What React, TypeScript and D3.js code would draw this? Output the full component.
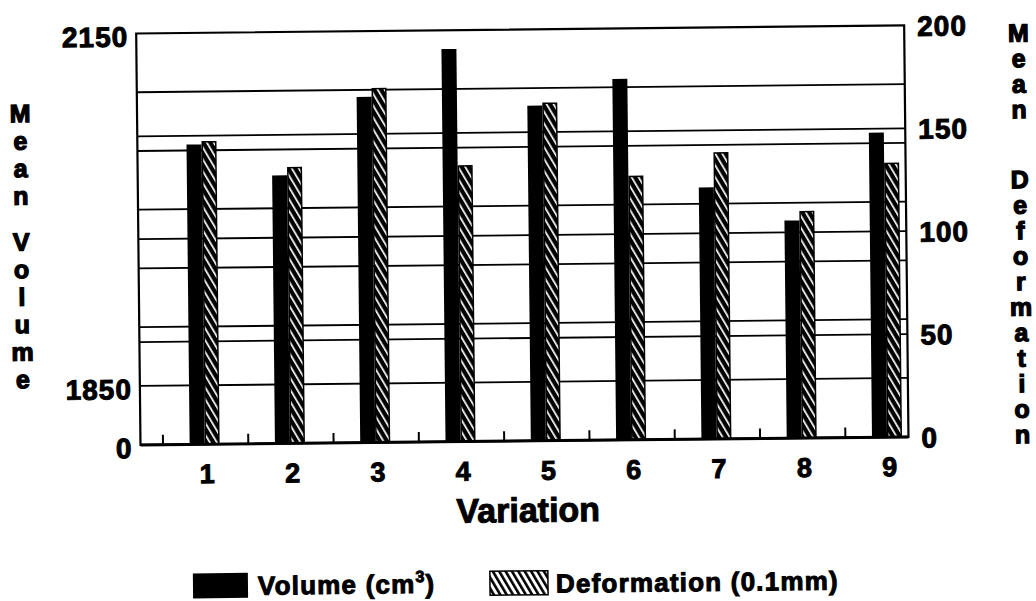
import React, { useEffect, useRef } from 'react';
import * as d3 from 'd3';

// values
const variations = ['1', '2', '3', '4', '5', '6', '7', '8', '9'];
const volume = [2055, 2028, 2094, 2134, 2085, 2107, 2014, 1985, 2059];
const deformation = [147, 134, 172, 134, 164, 128, 139, 110, 133];

const volumeTicks = [0, 1850, 2150];
const volumeGrid = [1850, 1900, 1950, 2000, 2050, 2100];
const deformationTicks = [0, 50, 100, 150, 200];
const deformationGrid = [50, 100, 150];

const FONT = '"Liberation Sans", Arial, Helvetica, sans-serif';

const App = () => {
  const ref = useRef<SVGSVGElement>(null);

  useEffect(() => {
    drawChart();
  }, []);

  const drawChart = () => {
    const svg = d3.select(ref.current);
    svg.selectAll('*').remove();

    const left = 139, right = 907, top = 29.5, bottom = 441;

    const x = d3.scaleBand().domain(variations).range([161.5, 161.5 + 9 * 85.3]);
    const yVol = d3.scaleLinear().domain([0, 1850, 2150]).range([bottom, 382, top]);
    const yDef = d3.scaleLinear().domain([0, 200]).range([bottom, top]);

    const defs = svg.append('defs');
    const barHatch = defs.append('pattern')
      .attr('id', 'barHatch')
      .attr('patternUnits', 'userSpaceOnUse')
      .attr('width', 6).attr('height', 6)
      .attr('patternTransform', 'rotate(-30)');
    barHatch.append('rect').attr('width', 6).attr('height', 6).attr('fill', '#000');
    barHatch.append('rect').attr('x', 2).attr('width', 1.7).attr('height', 6).attr('fill', '#fff');

    const legendHatch = defs.append('pattern')
      .attr('id', 'legendHatch')
      .attr('patternUnits', 'userSpaceOnUse')
      .attr('width', 5.5).attr('height', 5.5)
      .attr('patternTransform', 'rotate(-30)');
    legendHatch.append('rect').attr('width', 5.5).attr('height', 5.5).attr('fill', '#fff');
    legendHatch.append('rect').attr('width', 2.6).attr('height', 5.5).attr('fill', '#000');

    // the scan is tilted a little
    const g = svg.append('g').attr('transform', 'rotate(-0.6 518 300)');

    g.append('g').selectAll('line').data(volumeGrid).join('line')
      .attr('x1', left).attr('x2', right)
      .attr('y1', d => yVol(d)).attr('y2', d => yVol(d))
      .attr('stroke', '#000').attr('stroke-width', 1.8);

    g.append('g').selectAll('line').data(deformationGrid).join('line')
      .attr('x1', left).attr('x2', right)
      .attr('y1', d => yDef(d)).attr('y2', d => yDef(d))
      .attr('stroke', '#000').attr('stroke-width', 1.8);

    const bw = 15;
    const center = (i: number) => (x(variations[i]) as number) + x.bandwidth() / 2 - 1;

    g.append('g').selectAll('rect').data(volume).join('rect')
      .attr('x', (d, i) => center(i) - bw)
      .attr('y', d => yVol(d))
      .attr('width', bw)
      .attr('height', d => bottom - yVol(d))
      .attr('fill', '#000');

    g.append('g').selectAll('rect').data(deformation).join('rect')
      .attr('x', (d, i) => center(i) + 0.75)
      .attr('y', d => yDef(d))
      .attr('width', bw - 1.5)
      .attr('height', d => bottom - yDef(d))
      .attr('fill', 'url(#barHatch)')
      .attr('stroke', '#000').attr('stroke-width', 1.5);

    // frame
    g.append('rect')
      .attr('x', left).attr('y', top)
      .attr('width', right - left).attr('height', bottom - top)
      .attr('fill', 'none').attr('stroke', '#000').attr('stroke-width', 2.2);
    g.append('line')
      .attr('x1', left).attr('x2', right).attr('y1', bottom).attr('y2', bottom)
      .attr('stroke', '#000').attr('stroke-width', 3);

    // small ticks between the groups
    g.append('g').selectAll('line').data(variations).join('line')
      .attr('x1', d => x(d) as number).attr('x2', d => x(d) as number)
      .attr('y1', bottom).attr('y2', bottom - 10)
      .attr('stroke', '#000').attr('stroke-width', 2);

    const styleText = (sel: any, size: number) => sel
      .attr('font-family', FONT).attr('font-weight', 'bold')
      .attr('font-size', size).attr('fill', '#000')
      .attr('stroke', '#000').attr('stroke-width', 1);

    const axL = g.append('g')
      .attr('transform', `translate(131,0)`)
      .call(d3.axisLeft(yVol).tickValues(volumeTicks).tickSize(0).tickPadding(0).tickFormat(d3.format('d')));
    axL.select('.domain').remove();
    styleText(axL.selectAll('text'), 28).attr('dy', '0.45em').attr('letter-spacing', 1);

    const axR = g.append('g')
      .attr('transform', `translate(920,0)`)
      .call(d3.axisRight(yDef).tickValues(deformationTicks).tickSize(0).tickPadding(0).tickFormat(d3.format('d')));
    axR.select('.domain').remove();
    styleText(axR.selectAll('text'), 28).attr('dy', '0.36em').attr('letter-spacing', 1);

    const axB = g.append('g')
      .attr('transform', `translate(1.3,480)`)
      .call(d3.axisBottom(x).tickSize(0).tickPadding(0));
    axB.select('.domain').remove();
    styleText(axB.selectAll('text'), 27).attr('y', 0).attr('dy', 0);

    styleText(g.append('text'), 34)
      .attr('x', 526).attr('y', 522)
      .attr('text-anchor', 'middle')
      .text('Variation');

    // vertical stacked axis titles
    const stacked = (label: string, cx: number, y0: number, pitch: number, gap: number) => {
      const pos: { ch: string; y: number }[] = [];
      let y = y0;
      for (const ch of label) {
        if (ch === ' ') { y += gap - pitch; continue; }
        pos.push({ ch, y });
        y += pitch;
      }
      styleText(g.append('g').selectAll('text').data(pos).join('text'), 25)
        .attr('x', cx).attr('y', d => d.y)
        .attr('dy', '0.36em')
        .attr('text-anchor', 'middle')
        .attr('stroke-width', 1.3)
        .text(d => d.ch);
    };
    stacked('Mean Volume', 22, 108, 27.5, 46);
    stacked('Mean Deformation', 1021, 38, 25.5, 70);

    // legend
    g.append('rect').attr('x', 190).attr('y', 570).attr('width', 55).attr('height', 25).attr('fill', '#000');
    const t1 = styleText(g.append('text'), 26)
      .attr('x', 255).attr('y', 592).attr('letter-spacing', 1.2);
    t1.append('tspan').text('Volume (cm');
    t1.append('tspan').attr('font-size', 16).attr('dy', -11).text('3');
    t1.append('tspan').attr('dy', 11).text(')');

    g.append('rect').attr('x', 487).attr('y', 571).attr('width', 58).attr('height', 24)
      .attr('fill', 'url(#legendHatch)').attr('stroke', '#000').attr('stroke-width', 1.5);
    styleText(g.append('text'), 26)
      .attr('x', 553).attr('y', 593).attr('letter-spacing', 1.2)
      .text('Deformation (0.1mm)');
  };

  return (
    <svg
      ref={ref}
      width={1036}
      height={601}
      style={{ position: 'absolute', left: 0, top: 0, background: '#fff' }}
    />
  );
};

export default App;
